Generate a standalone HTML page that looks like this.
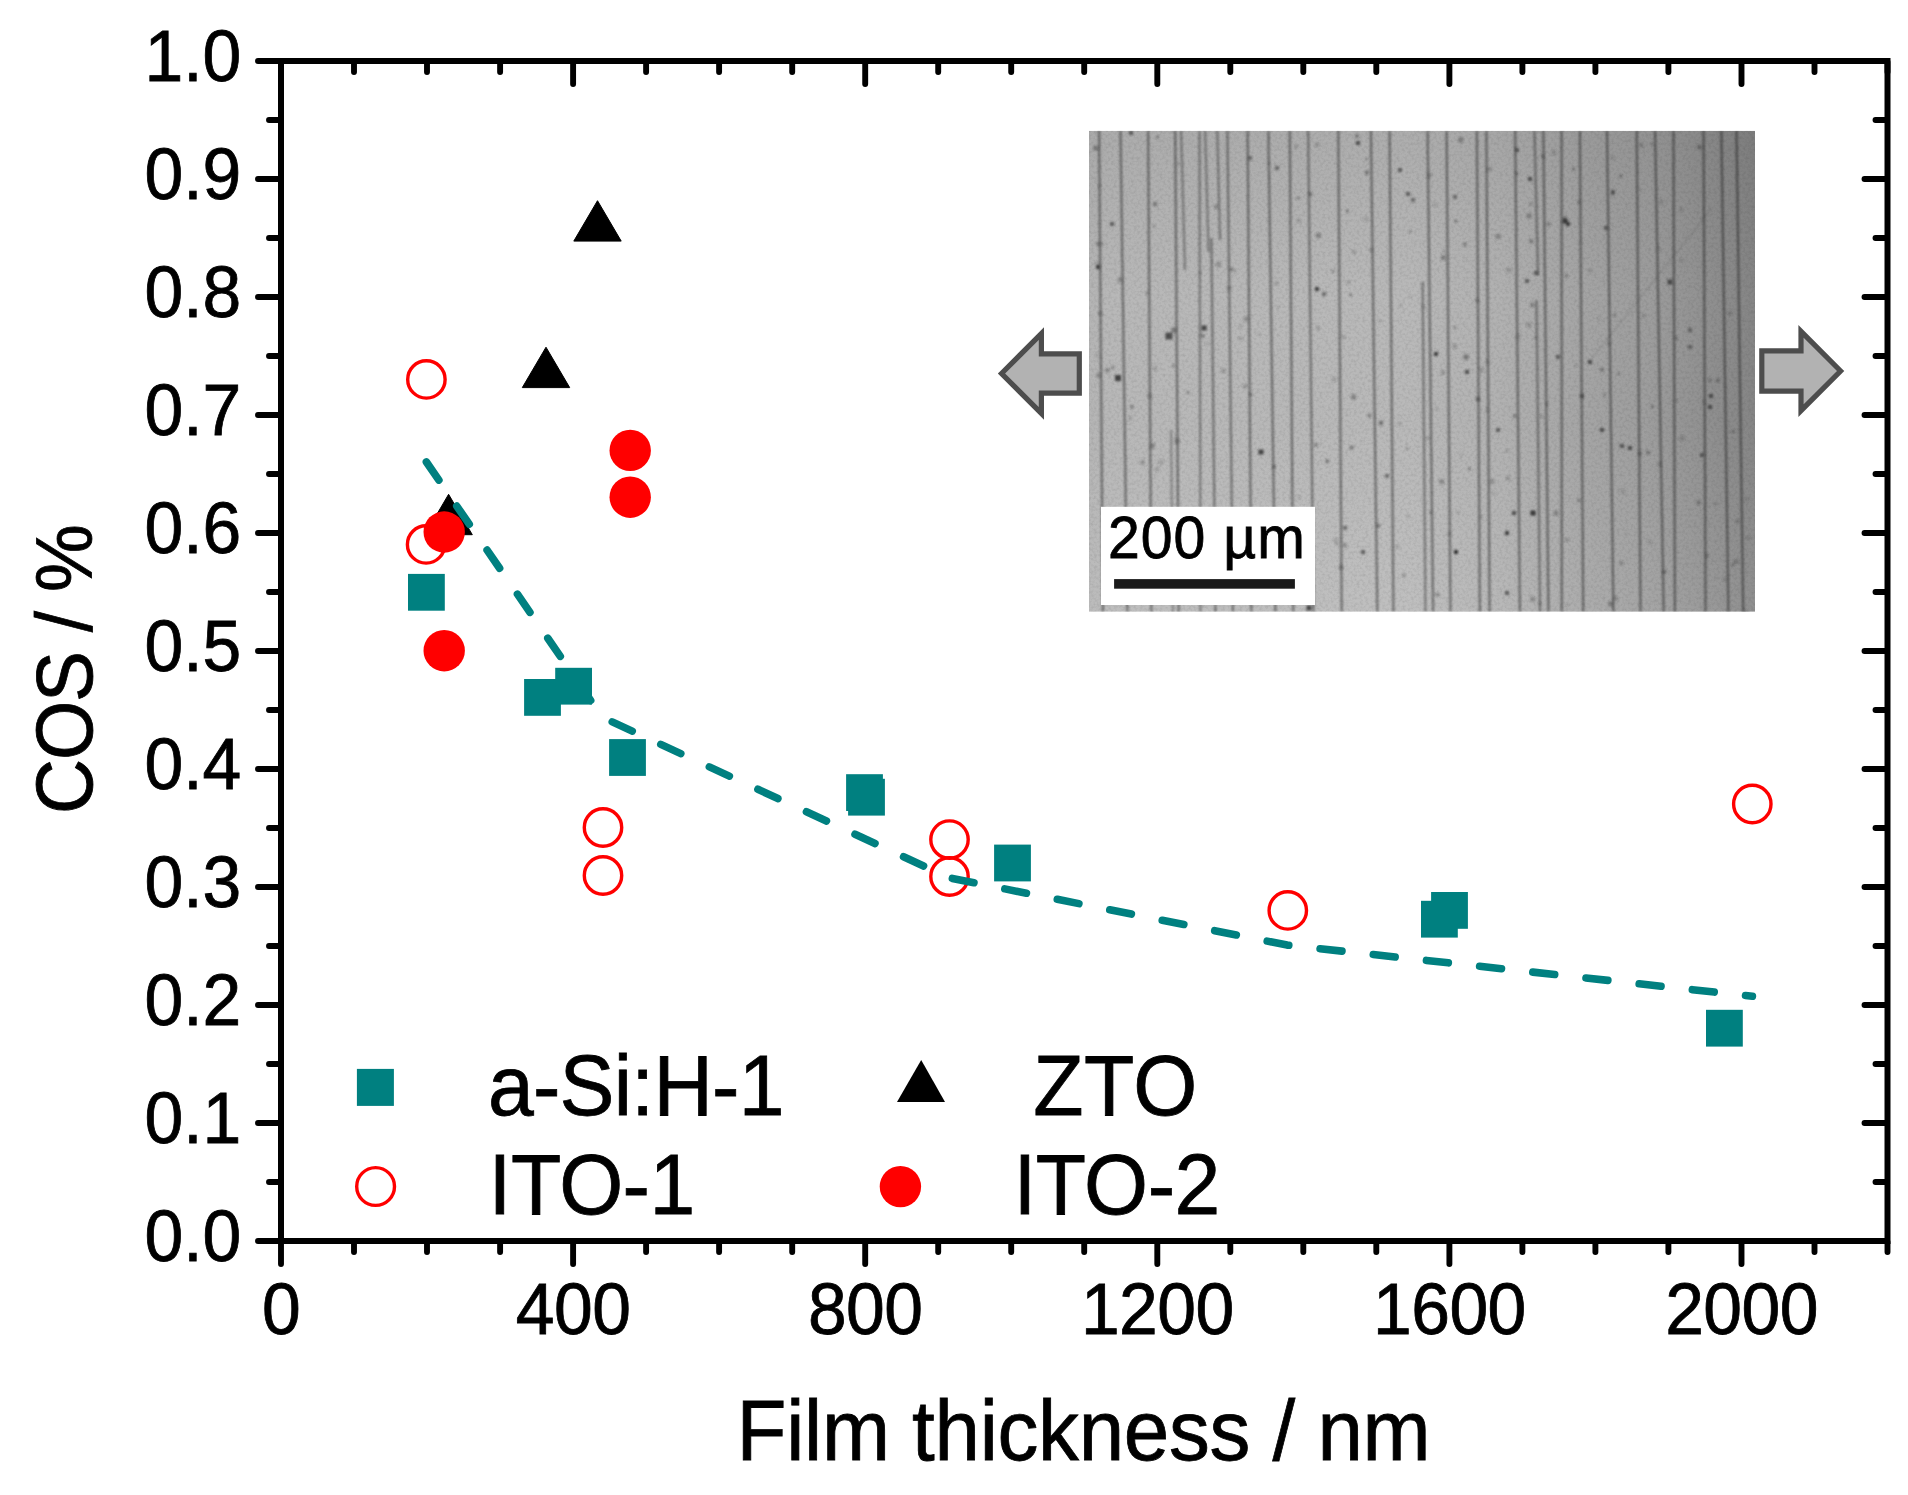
<!DOCTYPE html>
<html lang="en"><head><meta charset="utf-8"><title>COS vs film thickness</title>
<style>
html,body{margin:0;padding:0;background:#fff;}
body{width:1908px;height:1495px;overflow:hidden;}
svg{display:block;}
text{font-family:"Liberation Sans",Arial,Helvetica,sans-serif;fill:#000;stroke:#000;stroke-width:0.8px;}
</style></head><body>
<svg width="1908" height="1495" viewBox="0 0 1908 1495">
<rect width="1908" height="1495" fill="#fff"/>
<defs>
<linearGradient id="lg" x1="0" y1="0" x2="1" y2="0"><stop offset="0" stop-color="#b5b5b5"/><stop offset="0.033" stop-color="#b8b8b8"/><stop offset="0.48" stop-color="#b9b9b9"/><stop offset="0.62" stop-color="#b1b1b1"/><stop offset="0.763" stop-color="#a3a3a3"/><stop offset="0.84" stop-color="#9d9d9d"/><stop offset="0.937" stop-color="#8f8f8f"/><stop offset="1" stop-color="#858585"/></linearGradient>
<linearGradient id="vg" x1="0" y1="0" x2="0" y2="1"><stop offset="0" stop-color="#000" stop-opacity="0.065"/><stop offset="0.35" stop-color="#000" stop-opacity="0"/><stop offset="0.6" stop-color="#fff" stop-opacity="0"/><stop offset="1" stop-color="#fff" stop-opacity="0.09"/></linearGradient>
<clipPath id="ic"><rect x="1089" y="130.8" width="666" height="481"/></clipPath>
<filter id="nz" x="0" y="0" width="100%" height="100%"><feTurbulence type="fractalNoise" baseFrequency="0.35" numOctaves="2" seed="7" result="t"/><feColorMatrix type="matrix" values="0 0 0 0 0  0 0 0 0 0  0 0 0 0 0  0.9 0 0 0 -0.36"/></filter>
<filter id="bl"><feGaussianBlur stdDeviation="0.9"/></filter>
<filter id="bs"><feGaussianBlur stdDeviation="1.1"/></filter>
</defs>
<g clip-path="url(#ic)">
<rect x="1089" y="130.8" width="666" height="481" fill="url(#lg)"/>
<rect x="1089" y="130.8" width="666" height="481" fill="url(#vg)"/>
<rect x="1089" y="130.8" width="666" height="481" filter="url(#nz)" opacity="0.2"/>
<g stroke="#000" stroke-width="2.3" fill="none" filter="url(#bl)">
<line x1="1099.1" y1="130.8" x2="1102.9" y2="611.8" stroke-opacity="0.41"/>
<line x1="1120.5" y1="130.8" x2="1127.3" y2="611.8" stroke-opacity="0.41"/>
<line x1="1148.1" y1="130.8" x2="1151.4" y2="611.8" stroke-opacity="0.41"/>
<line x1="1175.2" y1="130.8" x2="1178.7" y2="611.8" stroke-opacity="0.41"/>
<line x1="1181.1" y1="130.8" x2="1185.0" y2="270.0" stroke-opacity="0.32"/>
<line x1="1199.5" y1="130.8" x2="1200.5" y2="611.8" stroke-opacity="0.34"/>
<line x1="1205.2" y1="130.8" x2="1208.5" y2="252.0" stroke-opacity="0.32"/>
<line x1="1217.3" y1="130.8" x2="1220.0" y2="240.0" stroke-opacity="0.34"/>
<line x1="1211.4" y1="238.0" x2="1215.5" y2="611.8" stroke-opacity="0.38"/>
<line x1="1227.4" y1="130.8" x2="1233.0" y2="611.8" stroke-opacity="0.38"/>
<line x1="1247.6" y1="130.8" x2="1251.4" y2="611.8" stroke-opacity="0.41"/>
<line x1="1268.4" y1="130.8" x2="1275.4" y2="611.8" stroke-opacity="0.41"/>
<line x1="1289.8" y1="130.8" x2="1293.1" y2="611.8" stroke-opacity="0.41"/>
<line x1="1308.2" y1="130.8" x2="1313.5" y2="611.8" stroke-opacity="0.38"/>
<line x1="1338.3" y1="130.8" x2="1341.7" y2="611.8" stroke-opacity="0.41"/>
<line x1="1370.9" y1="130.8" x2="1377.3" y2="611.8" stroke-opacity="0.41"/>
<line x1="1389.6" y1="130.8" x2="1393.4" y2="611.8" stroke-opacity="0.41"/>
<line x1="1422.6" y1="282.0" x2="1425.5" y2="611.8" stroke-opacity="0.36"/>
<line x1="1427.6" y1="130.8" x2="1433.1" y2="611.8" stroke-opacity="0.41"/>
<line x1="1446.6" y1="130.8" x2="1450.4" y2="611.8" stroke-opacity="0.41"/>
<line x1="1476.9" y1="130.8" x2="1479.8" y2="611.8" stroke-opacity="0.41"/>
<line x1="1486.4" y1="130.8" x2="1489.6" y2="611.8" stroke-opacity="0.41"/>
<line x1="1515.2" y1="130.8" x2="1519.9" y2="611.8" stroke-opacity="0.41"/>
<line x1="1534.5" y1="130.8" x2="1538.0" y2="275.0" stroke-opacity="0.36"/>
<line x1="1543.4" y1="130.8" x2="1548.4" y2="611.8" stroke-opacity="0.41"/>
<line x1="1561.6" y1="130.8" x2="1561.8" y2="611.8" stroke-opacity="0.41"/>
<line x1="1579.9" y1="130.8" x2="1583.2" y2="611.8" stroke-opacity="0.41"/>
<line x1="1607.0" y1="130.8" x2="1613.4" y2="611.8" stroke-opacity="0.41"/>
<line x1="1636.7" y1="130.8" x2="1640.5" y2="611.8" stroke-opacity="0.41"/>
<line x1="1655.1" y1="130.8" x2="1663.7" y2="611.8" stroke-opacity="0.41"/>
<line x1="1673.5" y1="130.8" x2="1674.9" y2="611.8" stroke-opacity="0.41"/>
<line x1="1703.6" y1="130.8" x2="1705.6" y2="611.8" stroke-opacity="0.41"/>
<line x1="1721.4" y1="130.8" x2="1728.4" y2="611.8" stroke-opacity="0.41"/>
<line x1="1736.5" y1="130.8" x2="1743.2" y2="611.8" stroke-opacity="0.41"/>
<line x1="1536.5" y1="300.0" x2="1540.0" y2="611.8" stroke-opacity="0.36"/>
<line x1="1171.0" y1="430.0" x2="1173.0" y2="611.8" stroke-opacity="0.27"/>
<line x1="1712" y1="208" x2="1592" y2="358" stroke-opacity="0.1" stroke-width="1.6"/>
</g>
<g fill="#2e2e2e" filter="url(#bs)">
<rect x="1115.0" y="375.0" width="6" height="6" fill-opacity="0.85"/>
<rect x="1165.5" y="332.5" width="7" height="7" fill-opacity="0.75"/>
<rect x="1171.5" y="327.5" width="5" height="5" fill-opacity="0.45"/>
<rect x="1201.5" y="325.5" width="5" height="5" fill-opacity="0.85"/>
<rect x="1096.0" y="265.0" width="4" height="4" fill-opacity="0.85"/>
<rect x="1110.0" y="222.0" width="4" height="4" fill-opacity="0.65"/>
<rect x="1129.0" y="131.0" width="4" height="4" fill-opacity="0.65"/>
<rect x="1258.5" y="449.5" width="5" height="5" fill-opacity="0.85"/>
<rect x="1315.0" y="287.0" width="4" height="4" fill-opacity="0.85"/>
<rect x="1322.0" y="292.0" width="4" height="4" fill-opacity="0.55"/>
<rect x="1398.0" y="168.0" width="4" height="4" fill-opacity="0.65"/>
<rect x="1406.0" y="192.0" width="4" height="4" fill-opacity="0.65"/>
<rect x="1411.0" y="198.0" width="4" height="4" fill-opacity="0.55"/>
<rect x="1356.0" y="141.0" width="4" height="4" fill-opacity="0.75"/>
<rect x="1434.0" y="352.0" width="4" height="4" fill-opacity="0.85"/>
<rect x="1465.0" y="370.0" width="4" height="4" fill-opacity="0.75"/>
<rect x="1496.0" y="428.0" width="4" height="4" fill-opacity="0.65"/>
<rect x="1530.5" y="510.5" width="5" height="5" fill-opacity="0.95"/>
<rect x="1454.0" y="550.0" width="4" height="4" fill-opacity="0.95"/>
<rect x="1505.0" y="531.0" width="4" height="4" fill-opacity="0.85"/>
<rect x="1512.0" y="511.0" width="4" height="4" fill-opacity="0.75"/>
<rect x="1505.0" y="591.0" width="4" height="4" fill-opacity="0.65"/>
<rect x="1562.5" y="218.5" width="5" height="5" fill-opacity="0.95"/>
<rect x="1566.0" y="222.0" width="4" height="4" fill-opacity="0.85"/>
<rect x="1528.0" y="177.0" width="4" height="4" fill-opacity="0.75"/>
<rect x="1534.0" y="271.0" width="4" height="4" fill-opacity="0.65"/>
<rect x="1588.0" y="360.0" width="4" height="4" fill-opacity="0.75"/>
<rect x="1580.0" y="394.0" width="4" height="4" fill-opacity="0.65"/>
<rect x="1667.5" y="279.5" width="5" height="5" fill-opacity="0.75"/>
<rect x="1708.0" y="405.0" width="4" height="4" fill-opacity="0.75"/>
<rect x="1709.0" y="394.0" width="4" height="4" fill-opacity="0.75"/>
<rect x="1600.0" y="428.0" width="4" height="4" fill-opacity="0.75"/>
<rect x="1628.0" y="446.0" width="4" height="4" fill-opacity="0.75"/>
<rect x="1620.0" y="444.0" width="4" height="4" fill-opacity="0.65"/>
<rect x="1556.0" y="355.0" width="4" height="4" fill-opacity="0.65"/>
<rect x="1525.0" y="279.0" width="4" height="4" fill-opacity="0.65"/>
<rect x="1515.0" y="148.0" width="4" height="4" fill-opacity="0.65"/>
<rect x="1611.0" y="190.0" width="4" height="4" fill-opacity="0.65"/>
<rect x="1355.5" y="134.5" width="3" height="3" fill-opacity="0.55"/>
<rect x="1453.0" y="195.0" width="4" height="4" fill-opacity="0.55"/>
<rect x="1385.0" y="474.0" width="4" height="4" fill-opacity="0.55"/>
<rect x="1379.0" y="421.0" width="4" height="4" fill-opacity="0.55"/>
<rect x="1275.0" y="166.0" width="4" height="4" fill-opacity="0.55"/>
<rect x="1248.0" y="156.0" width="4" height="4" fill-opacity="0.55"/>
<rect x="1153.0" y="202.0" width="4" height="4" fill-opacity="0.45"/>
<rect x="1306.5" y="605.5" width="5" height="5" fill-opacity="0.85"/>
<rect x="1361.0" y="550.0" width="4" height="4" fill-opacity="0.65"/>
<rect x="1343.0" y="526.0" width="4" height="4" fill-opacity="0.55"/>
<rect x="1700.0" y="453.0" width="4" height="4" fill-opacity="0.65"/>
<rect x="1688.0" y="345.0" width="4" height="4" fill-opacity="0.55"/>
<rect x="1604.0" y="226.0" width="4" height="4" fill-opacity="0.65"/>
<rect x="1463.5" y="354.5" width="5" height="5" fill-opacity="0.45"/>
<rect x="1476.0" y="397.0" width="4" height="4" fill-opacity="0.55"/>
<rect x="1688.0" y="328.0" width="4" height="4" fill-opacity="0.55"/>
<rect x="1405.2" y="446.4" width="4" height="4" fill-opacity="0.16"/>
<rect x="1098.2" y="311.6" width="4" height="4" fill-opacity="0.31"/>
<rect x="1395.7" y="545.1" width="3" height="3" fill-opacity="0.29"/>
<rect x="1528.8" y="202.1" width="4" height="4" fill-opacity="0.23"/>
<rect x="1315.9" y="233.1" width="5" height="5" fill-opacity="0.37"/>
<rect x="1140.4" y="460.5" width="4" height="4" fill-opacity="0.32"/>
<rect x="1619.2" y="174.5" width="3" height="3" fill-opacity="0.37"/>
<rect x="1529.3" y="239.3" width="4" height="4" fill-opacity="0.40"/>
<rect x="1165.5" y="334.7" width="3" height="3" fill-opacity="0.28"/>
<rect x="1674.9" y="399.0" width="3" height="3" fill-opacity="0.29"/>
<rect x="1426.8" y="172.7" width="5" height="5" fill-opacity="0.25"/>
<rect x="1485.5" y="360.2" width="4" height="4" fill-opacity="0.28"/>
<rect x="1515.2" y="172.2" width="3" height="3" fill-opacity="0.41"/>
<rect x="1530.3" y="302.8" width="4" height="4" fill-opacity="0.38"/>
<rect x="1346.3" y="280.6" width="4" height="4" fill-opacity="0.19"/>
<rect x="1331.5" y="376.7" width="5" height="5" fill-opacity="0.17"/>
<rect x="1343.2" y="542.6" width="3" height="3" fill-opacity="0.28"/>
<rect x="1238.1" y="336.6" width="4" height="4" fill-opacity="0.18"/>
<rect x="1493.0" y="492.1" width="3" height="3" fill-opacity="0.17"/>
<rect x="1551.7" y="150.4" width="4" height="4" fill-opacity="0.27"/>
<rect x="1489.6" y="479.0" width="5" height="5" fill-opacity="0.26"/>
<rect x="1229.2" y="267.3" width="4" height="4" fill-opacity="0.33"/>
<rect x="1657.4" y="247.2" width="3" height="3" fill-opacity="0.26"/>
<rect x="1454.3" y="219.6" width="3" height="3" fill-opacity="0.39"/>
<rect x="1095.4" y="260.8" width="4" height="4" fill-opacity="0.17"/>
<rect x="1617.3" y="372.0" width="3" height="3" fill-opacity="0.31"/>
<rect x="1742.3" y="609.1" width="5" height="5" fill-opacity="0.17"/>
<rect x="1705.0" y="553.5" width="4" height="4" fill-opacity="0.31"/>
<rect x="1242.9" y="384.3" width="4" height="4" fill-opacity="0.27"/>
<rect x="1325.2" y="459.3" width="4" height="4" fill-opacity="0.39"/>
<rect x="1198.3" y="271.8" width="3" height="3" fill-opacity="0.20"/>
<rect x="1715.9" y="378.5" width="4" height="4" fill-opacity="0.33"/>
<rect x="1232.7" y="268.8" width="4" height="4" fill-opacity="0.13"/>
<rect x="1093.4" y="145.8" width="5" height="5" fill-opacity="0.39"/>
<rect x="1369.3" y="247.9" width="4" height="4" fill-opacity="0.26"/>
<rect x="1129.9" y="404.8" width="4" height="4" fill-opacity="0.35"/>
<rect x="1367.5" y="413.5" width="4" height="4" fill-opacity="0.36"/>
<rect x="1475.1" y="298.5" width="4" height="4" fill-opacity="0.31"/>
<rect x="1345.9" y="209.6" width="3" height="3" fill-opacity="0.39"/>
<rect x="1619.1" y="560.9" width="4" height="4" fill-opacity="0.28"/>
<rect x="1613.4" y="313.8" width="3" height="3" fill-opacity="0.33"/>
<rect x="1216.1" y="261.9" width="5" height="5" fill-opacity="0.27"/>
<rect x="1495.6" y="233.9" width="5" height="5" fill-opacity="0.33"/>
<rect x="1351.9" y="250.0" width="4" height="4" fill-opacity="0.23"/>
<rect x="1145.5" y="291.4" width="3" height="3" fill-opacity="0.34"/>
<rect x="1296.6" y="218.5" width="4" height="4" fill-opacity="0.23"/>
<rect x="1110.7" y="365.5" width="4" height="4" fill-opacity="0.27"/>
<rect x="1128.5" y="416.2" width="4" height="4" fill-opacity="0.19"/>
<rect x="1307.8" y="583.0" width="3" height="3" fill-opacity="0.41"/>
<rect x="1333.6" y="537.7" width="4" height="4" fill-opacity="0.21"/>
<rect x="1432.9" y="202.8" width="4" height="4" fill-opacity="0.17"/>
<rect x="1398.6" y="422.1" width="3" height="3" fill-opacity="0.26"/>
<rect x="1611.0" y="156.3" width="3" height="3" fill-opacity="0.24"/>
<rect x="1553.6" y="510.5" width="5" height="5" fill-opacity="0.32"/>
<rect x="1530.1" y="596.7" width="5" height="5" fill-opacity="0.29"/>
<rect x="1297.6" y="496.3" width="3" height="3" fill-opacity="0.22"/>
<rect x="1421.9" y="304.9" width="4" height="4" fill-opacity="0.17"/>
<rect x="1406.8" y="514.8" width="3" height="3" fill-opacity="0.20"/>
<rect x="1121.4" y="516.1" width="4" height="4" fill-opacity="0.24"/>
<rect x="1506.4" y="267.7" width="5" height="5" fill-opacity="0.22"/>
<rect x="1174.3" y="438.5" width="5" height="5" fill-opacity="0.36"/>
<rect x="1341.5" y="335.0" width="4" height="4" fill-opacity="0.22"/>
<rect x="1599.9" y="367.7" width="4" height="4" fill-opacity="0.36"/>
<rect x="1212.0" y="509.0" width="4" height="4" fill-opacity="0.15"/>
<rect x="1268.4" y="556.2" width="4" height="4" fill-opacity="0.41"/>
<rect x="1696.8" y="500.5" width="4" height="4" fill-opacity="0.37"/>
<rect x="1230.8" y="552.5" width="3" height="3" fill-opacity="0.29"/>
<rect x="1119.2" y="519.3" width="3" height="3" fill-opacity="0.17"/>
<rect x="1564.9" y="274.3" width="3" height="3" fill-opacity="0.41"/>
<rect x="1603.1" y="393.3" width="3" height="3" fill-opacity="0.30"/>
<rect x="1158.7" y="459.5" width="5" height="5" fill-opacity="0.18"/>
<rect x="1156.0" y="135.8" width="3" height="3" fill-opacity="0.36"/>
<rect x="1425.5" y="436.0" width="4" height="4" fill-opacity="0.23"/>
<rect x="1647.3" y="539.6" width="5" height="5" fill-opacity="0.13"/>
<rect x="1650.3" y="142.6" width="3" height="3" fill-opacity="0.27"/>
<rect x="1657.3" y="462.1" width="4" height="4" fill-opacity="0.28"/>
<rect x="1728.3" y="311.7" width="3" height="3" fill-opacity="0.37"/>
<rect x="1176.6" y="162.6" width="3" height="3" fill-opacity="0.25"/>
<rect x="1624.5" y="532.0" width="3" height="3" fill-opacity="0.13"/>
<rect x="1545.5" y="402.2" width="3" height="3" fill-opacity="0.30"/>
<rect x="1479.6" y="516.0" width="3" height="3" fill-opacity="0.26"/>
<rect x="1313.9" y="442.8" width="4" height="4" fill-opacity="0.36"/>
<rect x="1349.7" y="445.7" width="4" height="4" fill-opacity="0.41"/>
<rect x="1744.2" y="497.8" width="4" height="4" fill-opacity="0.16"/>
<rect x="1172.1" y="364.4" width="3" height="3" fill-opacity="0.32"/>
<rect x="1099.3" y="241.8" width="4" height="4" fill-opacity="0.25"/>
<rect x="1316.1" y="326.1" width="4" height="4" fill-opacity="0.22"/>
<rect x="1343.6" y="544.1" width="4" height="4" fill-opacity="0.22"/>
<rect x="1679.8" y="435.9" width="5" height="5" fill-opacity="0.23"/>
<rect x="1243.6" y="316.6" width="5" height="5" fill-opacity="0.29"/>
<rect x="1646.1" y="450.6" width="4" height="4" fill-opacity="0.34"/>
<rect x="1257.9" y="332.4" width="3" height="3" fill-opacity="0.16"/>
<rect x="1479.5" y="367.7" width="4" height="4" fill-opacity="0.28"/>
<rect x="1485.5" y="408.1" width="4" height="4" fill-opacity="0.22"/>
<rect x="1338.8" y="565.3" width="4" height="4" fill-opacity="0.40"/>
<rect x="1487.1" y="166.7" width="5" height="5" fill-opacity="0.24"/>
<rect x="1226.7" y="286.6" width="4" height="4" fill-opacity="0.30"/>
<rect x="1659.2" y="200.5" width="4" height="4" fill-opacity="0.22"/>
<rect x="1526.3" y="322.3" width="5" height="5" fill-opacity="0.22"/>
<rect x="1446.8" y="531.1" width="5" height="5" fill-opacity="0.15"/>
<rect x="1256.7" y="519.1" width="3" height="3" fill-opacity="0.32"/>
<rect x="1204.6" y="341.9" width="4" height="4" fill-opacity="0.14"/>
<rect x="1546.3" y="222.3" width="4" height="4" fill-opacity="0.31"/>
<rect x="1512.8" y="414.1" width="4" height="4" fill-opacity="0.34"/>
<rect x="1296.3" y="196.0" width="4" height="4" fill-opacity="0.24"/>
<rect x="1399.1" y="304.2" width="3" height="3" fill-opacity="0.19"/>
<rect x="1439.2" y="479.3" width="5" height="5" fill-opacity="0.32"/>
<rect x="1564.8" y="537.9" width="4" height="4" fill-opacity="0.23"/>
<rect x="1294.0" y="144.6" width="4" height="4" fill-opacity="0.24"/>
<rect x="1731.3" y="563.3" width="3" height="3" fill-opacity="0.33"/>
<rect x="1435.5" y="408.1" width="3" height="3" fill-opacity="0.20"/>
<rect x="1364.9" y="157.5" width="3" height="3" fill-opacity="0.26"/>
<rect x="1442.6" y="250.0" width="3" height="3" fill-opacity="0.16"/>
<rect x="1641.7" y="313.9" width="4" height="4" fill-opacity="0.21"/>
<rect x="1152.7" y="224.7" width="3" height="3" fill-opacity="0.23"/>
<rect x="1441.1" y="255.1" width="5" height="5" fill-opacity="0.37"/>
<rect x="1610.9" y="192.8" width="3" height="3" fill-opacity="0.35"/>
<rect x="1456.2" y="510.3" width="4" height="4" fill-opacity="0.13"/>
<rect x="1452.7" y="344.4" width="4" height="4" fill-opacity="0.31"/>
<rect x="1213.7" y="532.4" width="3" height="3" fill-opacity="0.25"/>
<rect x="1105.2" y="368.5" width="4" height="4" fill-opacity="0.37"/>
<rect x="1147.3" y="393.4" width="5" height="5" fill-opacity="0.26"/>
<rect x="1613.1" y="596.2" width="5" height="5" fill-opacity="0.24"/>
<rect x="1096.4" y="373.4" width="4" height="4" fill-opacity="0.39"/>
<rect x="1107.1" y="512.5" width="5" height="5" fill-opacity="0.32"/>
<rect x="1274.3" y="281.4" width="4" height="4" fill-opacity="0.24"/>
<rect x="1620.3" y="489.0" width="5" height="5" fill-opacity="0.14"/>
<rect x="1540.9" y="154.2" width="4" height="4" fill-opacity="0.32"/>
<rect x="1331.5" y="269.6" width="3" height="3" fill-opacity="0.32"/>
<rect x="1637.3" y="187.6" width="3" height="3" fill-opacity="0.14"/>
<rect x="1190.5" y="508.0" width="5" height="5" fill-opacity="0.28"/>
<rect x="1208.2" y="527.1" width="4" height="4" fill-opacity="0.41"/>
<rect x="1238.9" y="324.8" width="3" height="3" fill-opacity="0.20"/>
<rect x="1467.9" y="467.2" width="3" height="3" fill-opacity="0.37"/>
<rect x="1588.1" y="268.9" width="4" height="4" fill-opacity="0.18"/>
<rect x="1722.9" y="577.2" width="4" height="4" fill-opacity="0.23"/>
<rect x="1153.2" y="366.6" width="4" height="4" fill-opacity="0.23"/>
<rect x="1117.6" y="277.2" width="5" height="5" fill-opacity="0.31"/>
<rect x="1458.3" y="137.4" width="5" height="5" fill-opacity="0.38"/>
<rect x="1299.6" y="579.8" width="3" height="3" fill-opacity="0.40"/>
<rect x="1249.4" y="392.9" width="3" height="3" fill-opacity="0.39"/>
<rect x="1148.9" y="590.0" width="5" height="5" fill-opacity="0.17"/>
<rect x="1376.2" y="523.6" width="4" height="4" fill-opacity="0.42"/>
<rect x="1606.9" y="341.4" width="4" height="4" fill-opacity="0.21"/>
<rect x="1125.1" y="590.4" width="4" height="4" fill-opacity="0.32"/>
<rect x="1408.8" y="230.0" width="3" height="3" fill-opacity="0.31"/>
<rect x="1637.9" y="451.8" width="4" height="4" fill-opacity="0.39"/>
<rect x="1708.1" y="378.1" width="4" height="4" fill-opacity="0.28"/>
<rect x="1349.1" y="293.2" width="3" height="3" fill-opacity="0.37"/>
<rect x="1539.8" y="414.4" width="3" height="3" fill-opacity="0.28"/>
<rect x="1565.8" y="603.0" width="3" height="3" fill-opacity="0.18"/>
<rect x="1363.3" y="216.7" width="5" height="5" fill-opacity="0.14"/>
<rect x="1401.9" y="573.2" width="4" height="4" fill-opacity="0.27"/>
<rect x="1378.2" y="319.6" width="3" height="3" fill-opacity="0.17"/>
<rect x="1650.6" y="405.1" width="3" height="3" fill-opacity="0.32"/>
<rect x="1186.4" y="391.1" width="3" height="3" fill-opacity="0.34"/>
<rect x="1505.5" y="449.0" width="3" height="3" fill-opacity="0.19"/>
<rect x="1574.6" y="364.0" width="3" height="3" fill-opacity="0.17"/>
<rect x="1149.6" y="580.4" width="5" height="5" fill-opacity="0.42"/>
<rect x="1463.0" y="242.3" width="4" height="4" fill-opacity="0.36"/>
<rect x="1733.7" y="559.0" width="5" height="5" fill-opacity="0.28"/>
<rect x="1254.9" y="542.9" width="4" height="4" fill-opacity="0.20"/>
<rect x="1351.1" y="394.4" width="5" height="5" fill-opacity="0.38"/>
<rect x="1534.3" y="336.2" width="3" height="3" fill-opacity="0.26"/>
<rect x="1435.5" y="592.7" width="4" height="4" fill-opacity="0.35"/>
<rect x="1459.6" y="453.4" width="3" height="3" fill-opacity="0.12"/>
<rect x="1577.1" y="199.9" width="4" height="4" fill-opacity="0.29"/>
<rect x="1149.9" y="443.4" width="5" height="5" fill-opacity="0.36"/>
<rect x="1429.0" y="511.1" width="3" height="3" fill-opacity="0.36"/>
<rect x="1697.3" y="145.0" width="4" height="4" fill-opacity="0.41"/>
<rect x="1098.1" y="184.0" width="3" height="3" fill-opacity="0.20"/>
<rect x="1679.6" y="258.3" width="4" height="4" fill-opacity="0.16"/>
<rect x="1526.6" y="213.4" width="5" height="5" fill-opacity="0.36"/>
<rect x="1155.0" y="467.2" width="4" height="4" fill-opacity="0.23"/>
<rect x="1276.4" y="305.4" width="3" height="3" fill-opacity="0.15"/>
<rect x="1272.0" y="464.8" width="4" height="4" fill-opacity="0.35"/>
<rect x="1408.1" y="295.2" width="3" height="3" fill-opacity="0.15"/>
<rect x="1095.8" y="241.8" width="4" height="4" fill-opacity="0.32"/>
<rect x="1662.4" y="569.9" width="4" height="4" fill-opacity="0.39"/>
<rect x="1597.6" y="317.2" width="3" height="3" fill-opacity="0.15"/>
<rect x="1679.2" y="207.7" width="4" height="4" fill-opacity="0.17"/>
<rect x="1746.2" y="536.1" width="4" height="4" fill-opacity="0.21"/>
<rect x="1288.3" y="479.9" width="3" height="3" fill-opacity="0.12"/>
<rect x="1220.8" y="368.2" width="5" height="5" fill-opacity="0.21"/>
<rect x="1563.4" y="215.8" width="3" height="3" fill-opacity="0.36"/>
<rect x="1364.9" y="170.5" width="4" height="4" fill-opacity="0.42"/>
<rect x="1094.9" y="353.3" width="4" height="4" fill-opacity="0.14"/>
<rect x="1314.8" y="142.6" width="4" height="4" fill-opacity="0.25"/>
<rect x="1267.3" y="161.3" width="3" height="3" fill-opacity="0.18"/>
<rect x="1608.0" y="601.4" width="5" height="5" fill-opacity="0.36"/>
<rect x="1579.8" y="241.0" width="3" height="3" fill-opacity="0.14"/>
<rect x="1617.6" y="443.5" width="3" height="3" fill-opacity="0.13"/>
<rect x="1335.3" y="541.3" width="4" height="4" fill-opacity="0.18"/>
<rect x="1731.6" y="429.8" width="3" height="3" fill-opacity="0.37"/>
<rect x="1701.5" y="399.8" width="4" height="4" fill-opacity="0.18"/>
<rect x="1506.1" y="476.3" width="4" height="4" fill-opacity="0.25"/>
<rect x="1214.1" y="204.6" width="4" height="4" fill-opacity="0.35"/>
<rect x="1698.7" y="146.3" width="3" height="3" fill-opacity="0.14"/>
<rect x="1577.1" y="499.0" width="3" height="3" fill-opacity="0.41"/>
<rect x="1200.7" y="334.0" width="4" height="4" fill-opacity="0.38"/>
<rect x="1308.3" y="192.2" width="4" height="4" fill-opacity="0.41"/>
<rect x="1538.3" y="602.5" width="3" height="3" fill-opacity="0.26"/>
<rect x="1515.4" y="334.2" width="5" height="5" fill-opacity="0.21"/>
<rect x="1441.0" y="370.3" width="4" height="4" fill-opacity="0.29"/>
<rect x="1453.4" y="326.0" width="3" height="3" fill-opacity="0.30"/>
<rect x="1713.4" y="501.5" width="4" height="4" fill-opacity="0.17"/>
<rect x="1735.4" y="519.6" width="4" height="4" fill-opacity="0.28"/>
<rect x="1572.2" y="167.4" width="3" height="3" fill-opacity="0.37"/>
<rect x="1639.3" y="143.3" width="4" height="4" fill-opacity="0.29"/>
<rect x="1674.7" y="336.7" width="3" height="3" fill-opacity="0.42"/>
</g>
</g>
<rect x="1101" y="506.8" width="214" height="98.2" fill="#fff"/>
<text transform="translate(1107.94 558.40) scale(0.961 1)" font-size="59.49" letter-spacing="1.08">200 µm</text>
<rect x="1114.1" y="579.1" width="180.8" height="9.6" fill="#1a1a1a"/>
<g fill="#b2b2b2" stroke="#4d4d4d" stroke-width="5.2" stroke-linejoin="miter">
<path d="M1001.5 373.5L1041.4 333.6V353.8H1079.3V393.2H1041.4V413.4Z"/>
<path d="M1840.6 371L1801 331.4V350.8H1761.8V391.2H1801V410.6Z"/>
</g>
<g fill="#008080">
<rect x="408.0" y="573.9" width="36.8" height="36.8"/>
<rect x="524.1" y="679.0" width="36.8" height="36.8"/>
<rect x="555.2" y="667.8" width="36.8" height="36.8"/>
<rect x="609.1" y="739.1" width="36.8" height="36.8"/>
<rect x="846.1" y="774.2" width="36.8" height="36.8"/>
<rect x="848.1" y="778.8" width="36.8" height="36.8"/>
<rect x="994.1" y="844.6" width="36.8" height="36.8"/>
<rect x="1421.0" y="900.8" width="36.8" height="36.8"/>
<rect x="1431.1" y="892.0" width="36.8" height="36.8"/>
<rect x="1706.0" y="1009.8" width="36.8" height="36.8"/>
</g>
<g fill="none" stroke="#ff0000" stroke-width="3.4">
<circle cx="426.4" cy="379.4" r="18.7"/>
<circle cx="426.1" cy="544.4" r="18.7"/>
<circle cx="603.0" cy="827.5" r="18.7"/>
<circle cx="603.0" cy="875.5" r="18.7"/>
<circle cx="949.5" cy="839.6" r="18.7"/>
<circle cx="949.5" cy="876.5" r="18.7"/>
<circle cx="1287.8" cy="910.4" r="18.7"/>
<circle cx="1752.3" cy="804.0" r="18.7"/>
</g>
<g fill="#000" stroke="#000" stroke-width="1" stroke-linejoin="round">
<path d="M448.6 494.3L472.3 534.7H424.9Z"/>
<path d="M546.0 347.2L569.7 387.6H522.3Z"/>
<path d="M597.5 200.7L621.2 241.1H573.8Z"/>
</g>
<g fill="#ff0000">
<circle cx="444.2" cy="532.0" r="20.7"/>
<circle cx="444.2" cy="650.7" r="20.7"/>
<circle cx="630.2" cy="450.4" r="20.7"/>
<circle cx="630.2" cy="497.2" r="20.7"/>
</g>
<polyline points="426.4,462.0 602.3,717.3 949.1,877.8 1287.2,945.1 1752.4,996.3" fill="none" stroke="#008080" stroke-width="7.6" stroke-linecap="round" stroke-linejoin="round" stroke-dasharray="22 31.5"/>
<g stroke="#000" fill="none" stroke-linecap="round" stroke-width="5.9">
<line x1="281.0" y1="1242.0" x2="281.0" y2="1264.0"/>
<line x1="281.0" y1="62.0" x2="281.0" y2="84.0"/>
<line x1="354.0" y1="1242.0" x2="354.0" y2="1252.0"/>
<line x1="354.0" y1="62.0" x2="354.0" y2="72.0"/>
<line x1="427.0" y1="1242.0" x2="427.0" y2="1252.0"/>
<line x1="427.0" y1="62.0" x2="427.0" y2="72.0"/>
<line x1="500.1" y1="1242.0" x2="500.1" y2="1252.0"/>
<line x1="500.1" y1="62.0" x2="500.1" y2="72.0"/>
<line x1="573.1" y1="1242.0" x2="573.1" y2="1264.0"/>
<line x1="573.1" y1="62.0" x2="573.1" y2="84.0"/>
<line x1="646.1" y1="1242.0" x2="646.1" y2="1252.0"/>
<line x1="646.1" y1="62.0" x2="646.1" y2="72.0"/>
<line x1="719.1" y1="1242.0" x2="719.1" y2="1252.0"/>
<line x1="719.1" y1="62.0" x2="719.1" y2="72.0"/>
<line x1="792.2" y1="1242.0" x2="792.2" y2="1252.0"/>
<line x1="792.2" y1="62.0" x2="792.2" y2="72.0"/>
<line x1="865.2" y1="1242.0" x2="865.2" y2="1264.0"/>
<line x1="865.2" y1="62.0" x2="865.2" y2="84.0"/>
<line x1="938.2" y1="1242.0" x2="938.2" y2="1252.0"/>
<line x1="938.2" y1="62.0" x2="938.2" y2="72.0"/>
<line x1="1011.2" y1="1242.0" x2="1011.2" y2="1252.0"/>
<line x1="1011.2" y1="62.0" x2="1011.2" y2="72.0"/>
<line x1="1084.2" y1="1242.0" x2="1084.2" y2="1252.0"/>
<line x1="1084.2" y1="62.0" x2="1084.2" y2="72.0"/>
<line x1="1157.3" y1="1242.0" x2="1157.3" y2="1264.0"/>
<line x1="1157.3" y1="62.0" x2="1157.3" y2="84.0"/>
<line x1="1230.3" y1="1242.0" x2="1230.3" y2="1252.0"/>
<line x1="1230.3" y1="62.0" x2="1230.3" y2="72.0"/>
<line x1="1303.3" y1="1242.0" x2="1303.3" y2="1252.0"/>
<line x1="1303.3" y1="62.0" x2="1303.3" y2="72.0"/>
<line x1="1376.3" y1="1242.0" x2="1376.3" y2="1252.0"/>
<line x1="1376.3" y1="62.0" x2="1376.3" y2="72.0"/>
<line x1="1449.4" y1="1242.0" x2="1449.4" y2="1264.0"/>
<line x1="1449.4" y1="62.0" x2="1449.4" y2="84.0"/>
<line x1="1522.4" y1="1242.0" x2="1522.4" y2="1252.0"/>
<line x1="1522.4" y1="62.0" x2="1522.4" y2="72.0"/>
<line x1="1595.4" y1="1242.0" x2="1595.4" y2="1252.0"/>
<line x1="1595.4" y1="62.0" x2="1595.4" y2="72.0"/>
<line x1="1668.4" y1="1242.0" x2="1668.4" y2="1252.0"/>
<line x1="1668.4" y1="62.0" x2="1668.4" y2="72.0"/>
<line x1="1741.5" y1="1242.0" x2="1741.5" y2="1264.0"/>
<line x1="1741.5" y1="62.0" x2="1741.5" y2="84.0"/>
<line x1="1814.5" y1="1242.0" x2="1814.5" y2="1252.0"/>
<line x1="1814.5" y1="62.0" x2="1814.5" y2="72.0"/>
<line x1="1887.5" y1="1242.0" x2="1887.5" y2="1252.0"/>
<line x1="1887.5" y1="62.0" x2="1887.5" y2="72.0"/>
<line x1="280.0" y1="1241.0" x2="258.0" y2="1241.0"/>
<line x1="1886.5" y1="1241.0" x2="1864.5" y2="1241.0"/>
<line x1="280.0" y1="1182.0" x2="269.0" y2="1182.0"/>
<line x1="1886.5" y1="1182.0" x2="1875.5" y2="1182.0"/>
<line x1="280.0" y1="1123.0" x2="258.0" y2="1123.0"/>
<line x1="1886.5" y1="1123.0" x2="1864.5" y2="1123.0"/>
<line x1="280.0" y1="1064.0" x2="269.0" y2="1064.0"/>
<line x1="1886.5" y1="1064.0" x2="1875.5" y2="1064.0"/>
<line x1="280.0" y1="1005.0" x2="258.0" y2="1005.0"/>
<line x1="1886.5" y1="1005.0" x2="1864.5" y2="1005.0"/>
<line x1="280.0" y1="946.0" x2="269.0" y2="946.0"/>
<line x1="1886.5" y1="946.0" x2="1875.5" y2="946.0"/>
<line x1="280.0" y1="887.0" x2="258.0" y2="887.0"/>
<line x1="1886.5" y1="887.0" x2="1864.5" y2="887.0"/>
<line x1="280.0" y1="828.0" x2="269.0" y2="828.0"/>
<line x1="1886.5" y1="828.0" x2="1875.5" y2="828.0"/>
<line x1="280.0" y1="769.0" x2="258.0" y2="769.0"/>
<line x1="1886.5" y1="769.0" x2="1864.5" y2="769.0"/>
<line x1="280.0" y1="710.0" x2="269.0" y2="710.0"/>
<line x1="1886.5" y1="710.0" x2="1875.5" y2="710.0"/>
<line x1="280.0" y1="651.0" x2="258.0" y2="651.0"/>
<line x1="1886.5" y1="651.0" x2="1864.5" y2="651.0"/>
<line x1="280.0" y1="592.0" x2="269.0" y2="592.0"/>
<line x1="1886.5" y1="592.0" x2="1875.5" y2="592.0"/>
<line x1="280.0" y1="533.0" x2="258.0" y2="533.0"/>
<line x1="1886.5" y1="533.0" x2="1864.5" y2="533.0"/>
<line x1="280.0" y1="474.0" x2="269.0" y2="474.0"/>
<line x1="1886.5" y1="474.0" x2="1875.5" y2="474.0"/>
<line x1="280.0" y1="415.0" x2="258.0" y2="415.0"/>
<line x1="1886.5" y1="415.0" x2="1864.5" y2="415.0"/>
<line x1="280.0" y1="356.0" x2="269.0" y2="356.0"/>
<line x1="1886.5" y1="356.0" x2="1875.5" y2="356.0"/>
<line x1="280.0" y1="297.0" x2="258.0" y2="297.0"/>
<line x1="1886.5" y1="297.0" x2="1864.5" y2="297.0"/>
<line x1="280.0" y1="238.0" x2="269.0" y2="238.0"/>
<line x1="1886.5" y1="238.0" x2="1875.5" y2="238.0"/>
<line x1="280.0" y1="179.0" x2="258.0" y2="179.0"/>
<line x1="1886.5" y1="179.0" x2="1864.5" y2="179.0"/>
<line x1="280.0" y1="120.0" x2="269.0" y2="120.0"/>
<line x1="1886.5" y1="120.0" x2="1875.5" y2="120.0"/>
<line x1="280.0" y1="61.0" x2="258.0" y2="61.0"/>
<line x1="1886.5" y1="61.0" x2="1864.5" y2="61.0"/>
</g>
<rect x="281.0" y="61.0" width="1606.5" height="1180.0" fill="none" stroke="#000" stroke-width="6"/>
<g font-size="72.51" text-anchor="end">
<text transform="translate(241.3 1260.5) scale(0.961 1)">0.0</text>
<text transform="translate(241.3 1142.5) scale(0.961 1)">0.1</text>
<text transform="translate(241.3 1024.5) scale(0.961 1)">0.2</text>
<text transform="translate(241.3 906.5) scale(0.961 1)">0.3</text>
<text transform="translate(241.3 788.5) scale(0.961 1)">0.4</text>
<text transform="translate(241.3 670.5) scale(0.961 1)">0.5</text>
<text transform="translate(241.3 552.5) scale(0.961 1)">0.6</text>
<text transform="translate(241.3 434.5) scale(0.961 1)">0.7</text>
<text transform="translate(241.3 316.5) scale(0.961 1)">0.8</text>
<text transform="translate(241.3 198.5) scale(0.961 1)">0.9</text>
<text transform="translate(241.3 80.5) scale(0.961 1)">1.0</text>
</g>
<g font-size="72.51" text-anchor="middle" letter-spacing="-0.6">
<text transform="translate(281.0 1334.3) scale(0.961 1)">0</text>
<text transform="translate(573.1 1334.3) scale(0.961 1)">400</text>
<text transform="translate(865.2 1334.3) scale(0.961 1)">800</text>
<text transform="translate(1157.3 1334.3) scale(0.961 1)">1200</text>
<text transform="translate(1449.4 1334.3) scale(0.961 1)">1600</text>
<text transform="translate(1741.5 1334.3) scale(0.961 1)">2000</text>
</g>
<text transform="translate(736.55 1459.60) scale(0.961 1)" font-size="85.09" letter-spacing="-0.32">Film thickness / nm</text>
<text transform="translate(92.00 814.02) rotate(-90) scale(0.961 1)" font-size="79.42" letter-spacing="-1.22">COS / %</text>
<rect x="356.9" y="1068.9" width="37" height="37" fill="#008080"/>
<path d="M921.2 1060L945 1102H897Z" fill="#000"/>
<circle cx="375.6" cy="1186.5" r="18.9" fill="none" stroke="#ff0000" stroke-width="3.4"/>
<circle cx="900.4" cy="1186.6" r="20.7" fill="#ff0000"/>
<text transform="translate(487.90 1114.90) scale(0.961 1)" font-size="85.67" letter-spacing="-0.78">a-Si:H-1</text>
<text transform="translate(1033.32 1114.90) scale(0.961 1)" font-size="85.67" letter-spacing="0.50">ZTO</text>
<text transform="translate(488.58 1214.00) scale(0.961 1)" font-size="85.67" letter-spacing="-0.57">ITO-1</text>
<text transform="translate(1013.38 1214.00) scale(0.961 1)" font-size="85.67" letter-spacing="-0.49">ITO-2</text>
</svg>
</body></html>
